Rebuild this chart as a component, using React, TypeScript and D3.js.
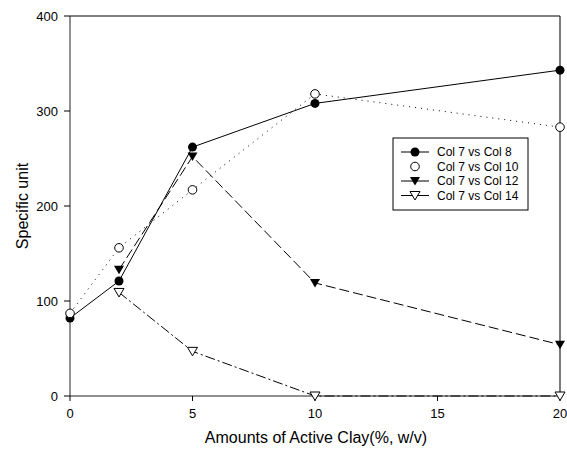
import React from "react";
import * as d3 from "d3";

const xValues = [0, 2, 5, 10, 20];
const col8 = [82, 121, 262, 308, 343];
const col10 = [87, 156, 217, 318, 283];
const col12x = [2, 5, 10, 20];
const col12 = [133, 252, 119, 54];
const col14x = [2, 5, 10, 20];
const col14 = [109, 47, 0, 0];
const xTicks = [0, 5, 10, 15, 20];
const yTicks = [0, 100, 200, 300, 400];
const legendLabels = ["Col 7 vs Col 8", "Col 7 vs Col 10", "Col 7 vs Col 12", "Col 7 vs Col 14"];

const W = 567;
const H = 450;
const left = 70;
const right = 560;
const top = 16;
const bottom = 396;
const font = "'Liberation Sans', Arial, sans-serif";

const x = d3.scaleLinear().domain([0, 20]).range([left, right]);
const y = d3.scaleLinear().domain([0, 400]).range([bottom, top]);

const line = d3
  .line<[number, number]>()
  .x((d) => x(d[0]))
  .y((d) => y(d[1]));

const tri = (cx: number, cy: number, s = 5) =>
  `M${cx - s},${cy - s * 0.8}L${cx + s},${cy - s * 0.8}L${cx},${cy + s * 0.9}Z`;

const Marker = ({ kind, cx, cy }: { kind: number; cx: number; cy: number }) => {
  if (kind === 0) return <circle cx={cx} cy={cy} r={4.5} fill="#000" />;
  if (kind === 1) return <circle cx={cx} cy={cy} r={4.3} fill="#fff" stroke="#000" strokeWidth={1} />;
  if (kind === 2) return <path d={tri(cx, cy)} fill="#000" />;
  return <path d={tri(cx, cy)} fill="#fff" stroke="#000" strokeWidth={1} />;
};

const dashes = [undefined, "1,5", "10,4", "10,3,2,3"];

export default function App() {
  const series = [
    xValues.map((v, i) => [v, col8[i]] as [number, number]),
    xValues.map((v, i) => [v, col10[i]] as [number, number]),
    col12x.map((v, i) => [v, col12[i]] as [number, number]),
    col14x.map((v, i) => [v, col14[i]] as [number, number]),
  ];

  return (
    <svg
      width={W}
      height={H}
      style={{ position: "absolute", left: 0, top: 0, background: "#fff" }}
      fontFamily={font}
    >
      {/* frame */}
      <line x1={left} x2={right} y1={top} y2={top} stroke="#000" />
      <line x1={right} x2={right} y1={top} y2={bottom} stroke="#222" strokeWidth={1.2} />
      <line x1={left} x2={left} y1={top} y2={bottom} stroke="#222" />
      <line x1={left} x2={right} y1={bottom} y2={bottom} stroke="#222" />

      {/* y axis */}
      {yTicks.map((t) => (
        <g key={"y" + t}>
          <line x1={left - 6} x2={left} y1={y(t)} y2={y(t)} stroke="#000" />
          <text x={left - 12} y={y(t)} dy="0.35em" textAnchor="end" fontSize={13}>
            {t}
          </text>
        </g>
      ))}
      {/* x axis */}
      {xTicks.map((t) => (
        <g key={"x" + t}>
          <line x1={x(t)} x2={x(t)} y1={bottom} y2={bottom + 5} stroke="#000" />
          <text x={x(t)} y={bottom + 22} textAnchor="middle" fontSize={13}>
            {t}
          </text>
        </g>
      ))}

      <text
        transform={`translate(28,${(top + bottom) / 2}) rotate(-90)`}
        textAnchor="middle"
        fontSize={16}
      >
        Specific unit
      </text>
      <text x={316} y={443} textAnchor="middle" fontSize={16}>
        Amounts of Active Clay(%, w/v)
      </text>

      {/* lines */}
      {series.map((s, i) => (
        <path
          key={"l" + i}
          d={line(s) || ""}
          fill="none"
          stroke="#000"
          strokeWidth={1}
          strokeDasharray={dashes[i]}
        />
      ))}
      {/* markers */}
      {series.map((s, i) =>
        s.map((d, j) => <Marker key={`m${i}-${j}`} kind={i} cx={x(d[0])} cy={y(d[1])} />)
      )}

      {/* legend */}
      <rect x={393} y={138} width={135} height={72} fill="#fff" stroke="#000" />
      {legendLabels.map((lab, i) => {
        const ly = 152 + i * 14.5;
        return (
          <g key={"lg" + i}>
            {i !== 1 && <line x1={401} x2={429} y1={ly} y2={ly} stroke="#000" />}
            <Marker kind={i} cx={415} cy={ly} />
            <text x={437} y={ly} dy="0.35em" fontSize={12}>
              {lab}
            </text>
          </g>
        );
      })}
    </svg>
  );
}
